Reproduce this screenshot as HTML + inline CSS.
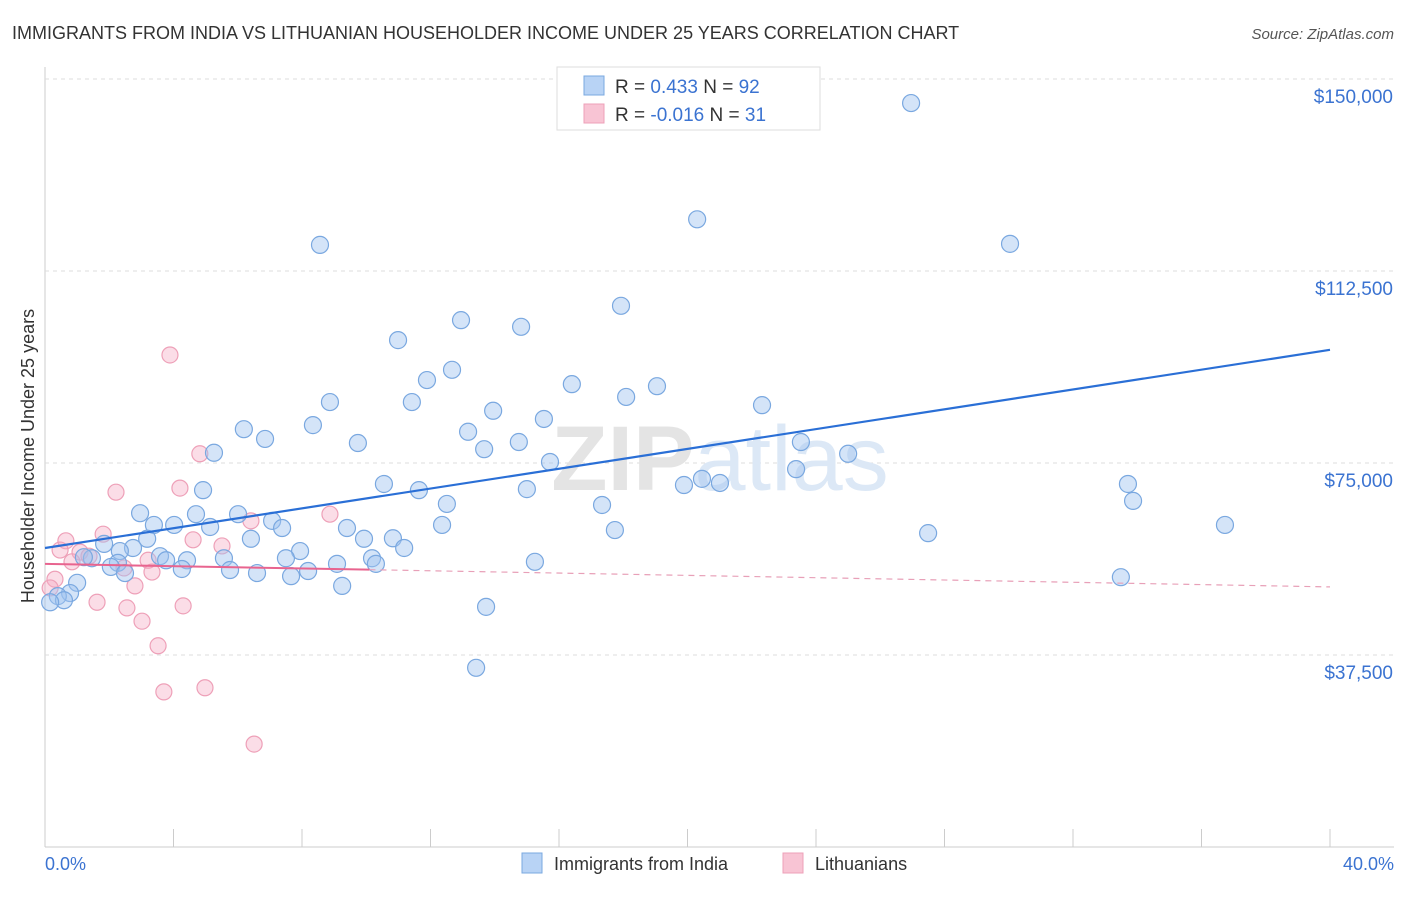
<!DOCTYPE html>
<html><head><meta charset="utf-8"><style>
body{margin:0;background:#fff;font-family:"Liberation Sans",sans-serif;}
svg text{font-family:"Liberation Sans",sans-serif;}
</style></head><body>
<svg id="chart" width="1406" height="892" viewBox="0 0 1406 892">
<text x="12" y="39" font-size="18" fill="#333">IMMIGRANTS FROM INDIA VS LITHUANIAN HOUSEHOLDER INCOME UNDER 25 YEARS CORRELATION CHART</text>
<text x="1394" y="39" font-size="15" fill="#555" font-style="italic" text-anchor="end">Source: ZipAtlas.com</text>
<g id="grid"></g>
<text x="720" y="490" font-size="92" fill="#e4e4e4" text-anchor="middle" font-weight="bold">ZIP<tspan fill="#dce8f6" font-weight="normal">atlas</tspan></text>
<g id="marks"></g>
<text transform="translate(34,456) rotate(-90)" font-size="18" fill="#333" text-anchor="middle">Householder Income Under 25 years</text>
<text x="45" y="870" font-size="18" fill="#3b73d1">0.0%</text>
<text x="1394" y="870" font-size="18" fill="#3b73d1" text-anchor="end">40.0%</text>
<g>
<rect x="557" y="67" width="263" height="63" fill="#fff" stroke="#ddd"/>
<rect x="584" y="76" width="20" height="19" fill="#b8d3f5" stroke="#7aa8e0"/>
<rect x="584" y="104" width="20" height="19" fill="#f8c4d4" stroke="#eea0b8"/>
<text x="615" y="93" font-size="19" fill="#333">R = <tspan fill="#3b73d1"> 0.433</tspan>   N = <tspan fill="#3b73d1">92</tspan></text>
<text x="615" y="121" font-size="19" fill="#333">R = <tspan fill="#3b73d1">-0.016</tspan>   N = <tspan fill="#3b73d1"> 31</tspan></text>
</g>
<g>
<rect x="522" y="853" width="20" height="20" fill="#b8d3f5" stroke="#7aa8e0"/>
<text x="554" y="870" font-size="18" fill="#333">Immigrants from India</text>
<rect x="783" y="853" width="20" height="20" fill="#f8c4d4" stroke="#eea0b8"/>
<text x="815" y="870" font-size="18" fill="#333">Lithuanians</text>
</g>
</svg>
<script>
const yTicks=[37500,75000,112500,150000];
const yTickLabels=["$37,500","$75,000","$112,500","$150,000"];
const xTicks=[0,4,8,12,16,20,24,28,32,36,40];
const indiaX=[26.96,20.30,30.04,8.56,17.93,12.95,14.82,10.99,12.67,11.89,16.40,19.05,18.09,8.87,11.42,22.32,13.95,15.53,8.34,6.19,13.17,6.85,9.74,14.75,23.53,13.67,5.26,25.00,15.72,23.38,20.45,19.89,21.01,10.55,33.71,15.00,11.64,4.92,12.51,33.87,17.34,2.96,4.70,6.01,7.07,3.39,4.02,12.36,36.73,5.14,7.38,9.40,17.74,27.49,6.41,9.93,10.83,3.18,1.84,2.74,11.18,7.94,2.33,3.58,5.57,7.50,4.42,1.46,3.77,10.18,1.21,2.27,10.30,15.25,9.09,4.26,5.76,6.60,2.05,2.49,8.19,7.66,33.49,1.00,9.25,0.78,0.40,0.59,0.16,13.73,13.42];
const indiaY=[145.3,122.6,117.8,117.6,105.7,102.9,101.6,99.0,93.2,91.2,90.4,90.0,87.9,86.9,86.9,86.3,85.2,83.6,82.4,81.6,81.1,79.7,78.9,79.1,79.1,77.7,77.0,76.8,75.2,73.8,71.9,70.7,71.1,70.9,70.9,69.9,69.7,69.7,67.0,67.6,66.8,65.2,65.0,65.0,63.7,62.9,62.9,62.9,62.9,62.5,62.3,62.3,61.9,61.3,60.2,60.2,60.3,60.2,59.2,58.4,58.4,57.8,57.8,56.8,56.4,56.4,56.0,56.4,56.0,56.4,56.6,55.5,55.3,55.7,55.3,54.3,54.1,53.5,54.7,53.5,53.9,52.9,52.7,51.6,51.0,49.6,49.0,48.2,47.8,46.9,35.0];
const lithX=[3.89,4.82,2.21,4.20,8.87,6.41,1.81,4.61,0.65,5.51,0.47,1.09,1.37,3.21,0.84,2.46,3.33,2.80,0.31,0.16,1.62,2.55,4.30,3.02,3.52,4.98,3.70,6.51];
const lithY=[96.1,76.8,69.3,70.1,65.0,63.7,61.1,60.0,59.8,58.8,58.0,57.6,56.8,56.0,55.7,54.5,53.7,51.0,52.3,50.6,47.8,46.7,47.1,44.1,39.3,31.1,30.3,20.1];
const indiaTrend=[58.4,97.1];
const lithTrend=[55.3,50.8];
const lithSolidEnd=10.1;
const NS="http://www.w3.org/2000/svg";
const xs=v=>45+v*32.125;
const ys=v=>847-v*1000/195.3125;
function mk(tag,attrs,parent){const e=document.createElementNS(NS,tag);for(const k in attrs)e.setAttribute(k,attrs[k]);parent.appendChild(e);return e;}
const grid=document.getElementById('grid'),marks=document.getElementById('marks');
let ax=mk('line',{x1:45,y1:67,x2:45,y2:847,stroke:'#ccc'},grid);

let bx=mk('line',{x1:45,y1:847,x2:1394,y2:847,stroke:'#ccc'},grid);

yTicks.forEach((t,i)=>{const y=ys(t/1000);
 const l=mk('line',{x1:45,y1:y,x2:1394,y2:y,stroke:'#ddd','stroke-dasharray':'4,4'},grid);
 
 const tx=mk('text',{x:1393,y:y+24,'font-size':19,fill:'#3b73d1','text-anchor':'end'},grid);tx.textContent=yTickLabels[i];
 });
xTicks.forEach(t=>{const x=xs(t);const l=mk('line',{x1:x,y1:829,x2:x,y2:847,stroke:'#ccc'},grid);
 });
lithX.forEach((v,i)=>{const c=mk('circle',{cx:xs(v),cy:ys(lithY[i]),r:8,fill:'rgba(245,170,195,0.4)',stroke:'#eea0b8','stroke-width':1.2},marks);
 });
indiaX.forEach((v,i)=>{const c=mk('circle',{cx:xs(v),cy:ys(indiaY[i]),r:8.5,fill:'rgba(160,196,240,0.45)',stroke:'#7aa8e0','stroke-width':1.2},marks);
 });
const lt=x=>lithTrend[0]+(lithTrend[1]-lithTrend[0])*x/40;
let p1=mk('line',{x1:xs(0),y1:ys(lt(0)),x2:xs(lithSolidEnd),y2:ys(lt(lithSolidEnd)),stroke:'#e8648f','stroke-width':2},marks);

let p2=mk('line',{x1:xs(lithSolidEnd),y1:ys(lt(lithSolidEnd)),x2:xs(40),y2:ys(lt(40)),stroke:'#e8a0b8','stroke-width':1.2,'stroke-dasharray':'6,5'},marks);

let b=mk('line',{x1:xs(0),y1:ys(indiaTrend[0]),x2:xs(40),y2:ys(indiaTrend[1]),stroke:'#2a6fd6','stroke-width':2.2},marks);

</script>
</body></html>
